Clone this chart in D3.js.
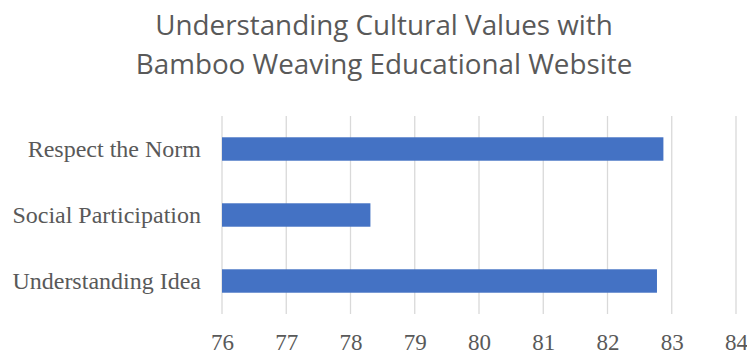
<!DOCTYPE html>
<html><head><meta charset="utf-8">
<script src="https://cdn.jsdelivr.net/npm/d3@7"></script>
<style>body{margin:0;background:#fff}svg{display:block}</style>
</head><body>
<script>
const titleLines = ["Understanding Cultural Values with", "Bamboo Weaving Educational Website"];
const categories = ["Respect the Norm", "Social Participation", "Understanding Idea"];
const values = [82.87, 78.31, 82.77];
const ticks = [76, 77, 78, 79, 80, 81, 82, 83, 84];

const W = 747, H = 354;
const m = {left: 222, right: 11, top: 116, bottom: 40};
const svg = d3.select("body").append("svg").attr("width", W).attr("height", H);

const x = d3.scaleLinear().domain([76, 84]).range([m.left, W - m.right]);
const y = d3.scaleBand().domain(categories).range([m.top, H - m.bottom]).paddingInner(0.645).paddingOuter(0.3225);

// gridlines
svg.append("g").selectAll("line").data(ticks).join("line")
  .attr("x1", d => x(d)).attr("x2", d => x(d))
  .attr("y1", m.top).attr("y2", H - m.bottom)
  .attr("stroke", "#d9d9d9").attr("stroke-width", 1.3);

// bars
svg.append("g").selectAll("rect").data(values).join("rect")
  .attr("x", x(76)).attr("y", (d, i) => y(categories[i]))
  .attr("width", d => x(d) - x(76)).attr("height", y.bandwidth())
  .attr("fill", "#4472C4");

// x tick labels
const xAxis = d3.axisBottom(x).tickValues(ticks).tickSize(0).tickPadding(0).tickFormat(d3.format("d"));
const gx = svg.append("g").attr("transform", `translate(0,${H - m.bottom})`).call(xAxis);
gx.select(".domain").remove();
gx.selectAll("text").attr("font-family", "'Liberation Serif', serif").attr("font-size", 23)
  .attr("fill", "#595959").attr("dy", null).attr("y", 36);

// y labels
const yAxis = d3.axisLeft(y).tickSize(0).tickPadding(0);
const gy = svg.append("g").attr("transform", `translate(${m.left - 21},0)`).call(yAxis);
gy.select(".domain").remove();
gy.selectAll("text").attr("font-family", "'Liberation Serif', serif").attr("font-size", 24)
  .attr("fill", "#595959").attr("dy", "0.33em");

// title
svg.append("g").selectAll("text").data(titleLines).join("text")
  .attr("x", 384).attr("y", (d, i) => 35 + i * 39)
  .attr("text-anchor", "middle")
  .attr("font-family", "'Open Sans', sans-serif").attr("font-size", 27.8)
  .attr("fill", "#595959").text(d => d);
</script>
</body></html>
